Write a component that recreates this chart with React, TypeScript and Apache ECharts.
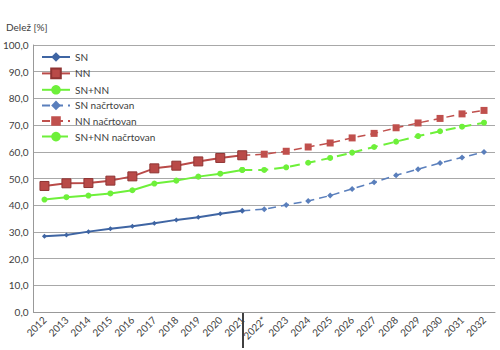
import React, { useEffect, useRef } from "react";
import * as echarts from "echarts";

const years = ["2012","2013","2014","2015","2016","2017","2018","2019","2020","2021","2022*","2023","2024","2025","2026","2027","2028","2029","2030","2031","2032"];
const snActual = [28.4, 28.8, 30.1, 31.2, 32.1, 33.2, 34.5, 35.5, 36.8, 37.9];
const nnActual = [47.2, 48.2, 48.3, 49.2, 50.8, 53.8, 54.8, 56.4, 57.7, 58.7];
const snnnActual = [42.1, 43.0, 43.6, 44.4, 45.6, 48.1, 49.2, 50.7, 51.8, 53.2];
// projections from 2021 to 2032
const snPlan = [37.9, 38.5, 40.1, 41.6, 43.6, 46.1, 48.6, 51.2, 53.5, 55.8, 57.9, 59.9];
const nnPlan = [58.7, 59.1, 60.2, 61.8, 63.3, 65.2, 66.9, 69.0, 70.8, 72.5, 74.2, 75.5];
const snnnPlan = [53.2, 53.2, 54.2, 55.9, 57.7, 59.7, 61.8, 63.8, 65.9, 67.7, 69.4, 70.9];
const yTicks = [0, 10, 20, 30, 40, 50, 60, 70, 80, 90, 100];

const FONT = "Lato";

function pad(arr: number[], before: number, total: number): (number | null)[] {
  const out: (number | null)[] = [];
  for (let i = 0; i < before; i++) out.push(null);
  for (const v of arr) out.push(v);
  while (out.length < total) out.push(null);
  return out;
}

export default function App() {
  const ref = useRef<HTMLDivElement>(null);
  useEffect(() => {
    document.body.style.margin = "0";
    if (!ref.current) return;
    const chart = echarts.init(ref.current, undefined, { renderer: "svg" });
    const n = years.length;
    const planStart = 9;
    chart.setOption({
      animation: false,
      backgroundColor: "#ffffff",
      textStyle: { fontFamily: FONT },
      title: {
        text: "Delež [%]",
        left: 1,
        top: 17,
        textStyle: { fontSize: 10, fontWeight: "normal", color: "#404040", fontFamily: FONT },
      },
      grid: { left: 30, right: 5, top: 45, bottom: 38, containLabel: false },
      legend: {
        orient: "vertical",
        left: 36,
        top: 47,
        itemWidth: 28,
        itemHeight: 12,
        itemGap: 5.6,
        textStyle: { fontSize: 10, color: "#404040", fontFamily: FONT },
        data: ["SN", "NN", "SN+NN", "SN načrtovan", "NN načrtovan", "SN+NN načrtovan"],
      },
      xAxis: {
        type: "category",
        data: years,
        boundaryGap: true,
        axisLine: { show: true, lineStyle: { color: "#999", width: 1 } },
        axisTick: { show: false },
        axisLabel: { rotate: 45, interval: 0, fontSize: 10, color: "#404040", margin: 6, fontFamily: FONT },
      },
      yAxis: {
        type: "value",
        min: yTicks[0],
        max: yTicks[yTicks.length - 1],
        interval: 10,
        axisLine: { show: true, lineStyle: { color: "#999", width: 1 } },
        axisTick: { show: false },
        splitLine: { show: true, lineStyle: { color: "#a8a8a8", width: 1 } },
        axisLabel: {
          fontSize: 10,
          color: "#404040",
          margin: 5,
          fontFamily: FONT,
          formatter: (v: number) => v.toFixed(1).replace(".", ","),
        },
      },
      graphic: [
        {
          type: "line",
          shape: { x1: 243, y1: 313, x2: 243, y2: 348 },
          style: { stroke: "#000", lineWidth: 1.5 },
        },
      ],
      series: [
        {
          name: "SN načrtovan",
          type: "line",
          data: pad(snPlan, planStart, n),
          symbol: "diamond",
          symbolSize: 6,
          lineStyle: { color: "#5a7fbc", width: 1.5, type: [8, 5] },
          itemStyle: { color: "#5a7fbc" },
          z: 2,
        },
        {
          name: "NN načrtovan",
          type: "line",
          data: pad(nnPlan, planStart, n),
          symbol: "rect",
          symbolSize: 7,
          lineStyle: { color: "#c0504d", width: 1.5, type: [8, 5] },
          itemStyle: { color: "#c0504d" },
          z: 2,
        },
        {
          name: "SN+NN načrtovan",
          type: "line",
          data: pad(snnnPlan, planStart, n),
          symbol: "circle",
          symbolSize: 6,
          lineStyle: { color: "#6ef03a", width: 2, type: [10, 6] },
          itemStyle: { color: "#6ef03a" },
          z: 2,
        },
        {
          name: "SN",
          type: "line",
          data: pad(snActual, 0, n),
          symbol: "diamond",
          symbolSize: 5,
          lineStyle: { color: "#3f65a3", width: 2 },
          itemStyle: { color: "#3f65a3" },
          z: 3,
        },
        {
          name: "NN",
          type: "line",
          data: pad(nnActual, 0, n),
          symbol: "rect",
          symbolSize: 9,
          lineStyle: { color: "#b94a48", width: 2 },
          itemStyle: { color: "#b94a48", borderColor: "#8f3433", borderWidth: 1 },
          z: 3,
        },
        {
          name: "SN+NN",
          type: "line",
          data: pad(snnnActual, 0, n),
          symbol: "circle",
          symbolSize: 6,
          lineStyle: { color: "#6ef03a", width: 2 },
          itemStyle: { color: "#6ef03a" },
          z: 3,
        },
      ],
    });
    return () => chart.dispose();
  }, []);
  return (
    <div
      ref={ref}
      style={{ position: "absolute", left: 0, top: 0, width: 500, height: 350 }}
    />
  );
}
